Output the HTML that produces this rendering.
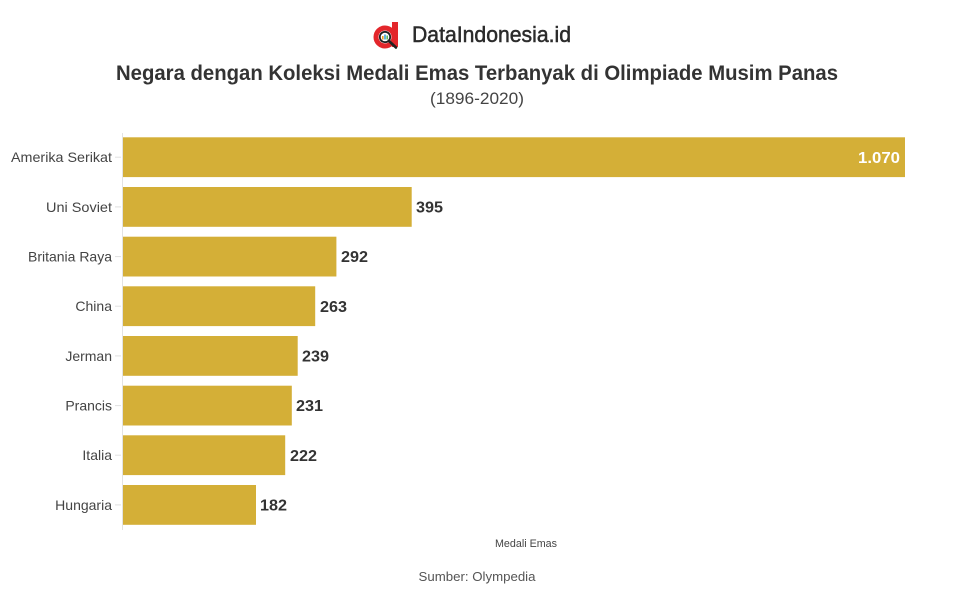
<!DOCTYPE html>
<html>
<head>
<meta charset="utf-8">
<style>
html,body{margin:0;padding:0;background:#fff;}
svg{display:block;font-family:"Liberation Sans",sans-serif;}
</style>
</head>
<body>
<svg width="954" height="596" viewBox="0 0 954 596" xmlns="http://www.w3.org/2000/svg">
  <rect width="954" height="596" fill="#fff"/>
  <!-- logo -->
  <g>
    <rect x="392" y="22" width="6" height="25" fill="#e3262b"/>
    <circle cx="385" cy="37" r="9" fill="none" stroke="#e3262b" stroke-width="5"/>
    <circle cx="385" cy="37" r="5.2" fill="#fff" stroke="#222" stroke-width="1.8"/>
    <rect x="382" y="36" width="1.6" height="3.5" fill="#f0a020"/>
    <rect x="384.2" y="34.5" width="1.6" height="5" fill="#3aa0d8"/>
    <rect x="386.4" y="35.5" width="1.6" height="4" fill="#5cb85c"/>
    <line x1="389" y1="41" x2="396" y2="47.5" stroke="#222" stroke-width="2.6" stroke-linecap="round"/>
  </g>
  <text x="412" y="42" font-size="22" fill="#2b2b2b" stroke="#2b2b2b" stroke-width="0.5" textLength="159" lengthAdjust="spacingAndGlyphs">DataIndonesia.id</text>

  <!-- title -->
  <text x="477" y="80" text-anchor="middle" font-size="21" font-weight="bold" fill="#333" textLength="722" lengthAdjust="spacingAndGlyphs">Negara dengan Koleksi Medali Emas Terbanyak di Olimpiade Musim Panas</text>
  <text x="477" y="104" text-anchor="middle" font-size="17" fill="#444" textLength="94" lengthAdjust="spacingAndGlyphs">(1896-2020)</text>

  <!-- axis line -->
  <line x1="122.5" y1="133" x2="122.5" y2="530" stroke="#e3e3e3" stroke-width="1"/>

  <!-- bars -->
  <g fill="#d4af37">
    <rect x="123" y="137.3" width="782" height="39.8"/>
    <rect x="123" y="187" width="288.7" height="39.8"/>
    <rect x="123" y="236.7" width="213.4" height="39.8"/>
    <rect x="123" y="286.3" width="192.2" height="39.8"/>
    <rect x="123" y="336" width="174.7" height="39.8"/>
    <rect x="123" y="385.7" width="168.8" height="39.8"/>
    <rect x="123" y="435.3" width="162.2" height="39.8"/>
    <rect x="123" y="485" width="133" height="39.8"/>
  </g>

  <!-- ticks -->
  <g stroke="#e0e0e0" stroke-width="1">
    <line x1="115" y1="157.2" x2="121" y2="157.2"/>
    <line x1="115" y1="206.9" x2="121" y2="206.9"/>
    <line x1="115" y1="256.6" x2="121" y2="256.6"/>
    <line x1="115" y1="306.2" x2="121" y2="306.2"/>
    <line x1="115" y1="355.9" x2="121" y2="355.9"/>
    <line x1="115" y1="405.6" x2="121" y2="405.6"/>
    <line x1="115" y1="455.2" x2="121" y2="455.2"/>
    <line x1="115" y1="504.9" x2="121" y2="504.9"/>
  </g>

  <!-- category labels -->
  <g font-size="14" fill="#444" text-anchor="end">
    <text x="112" y="162" textLength="101" lengthAdjust="spacingAndGlyphs">Amerika Serikat</text>
    <text x="112" y="212" textLength="66" lengthAdjust="spacingAndGlyphs">Uni Soviet</text>
    <text x="112" y="261.5" textLength="84" lengthAdjust="spacingAndGlyphs">Britania Raya</text>
    <text x="112" y="311">China</text>
    <text x="112" y="361">Jerman</text>
    <text x="112" y="410.5">Prancis</text>
    <text x="112" y="460">Italia</text>
    <text x="112" y="510">Hungaria</text>
  </g>

  <!-- value labels -->
  <g font-size="16" font-weight="bold" fill="#333">
    <text x="900" y="163" fill="#fff" text-anchor="end" textLength="42" lengthAdjust="spacingAndGlyphs">1.070</text>
    <text x="416" y="212.5" textLength="27" lengthAdjust="spacingAndGlyphs">395</text>
    <text x="341" y="262" textLength="27" lengthAdjust="spacingAndGlyphs">292</text>
    <text x="320" y="312" textLength="27" lengthAdjust="spacingAndGlyphs">263</text>
    <text x="302" y="361.5" textLength="27" lengthAdjust="spacingAndGlyphs">239</text>
    <text x="296" y="411" textLength="27" lengthAdjust="spacingAndGlyphs">231</text>
    <text x="290" y="461" textLength="27" lengthAdjust="spacingAndGlyphs">222</text>
    <text x="260" y="510.5" textLength="27" lengthAdjust="spacingAndGlyphs">182</text>
  </g>

  <!-- axis title & source -->
  <text x="526" y="547" text-anchor="middle" font-size="11" fill="#444" textLength="62" lengthAdjust="spacingAndGlyphs">Medali Emas</text>
  <text x="477" y="581" text-anchor="middle" font-size="13" fill="#555" textLength="117" lengthAdjust="spacingAndGlyphs">Sumber: Olympedia</text>
</svg>
</body>
</html>
